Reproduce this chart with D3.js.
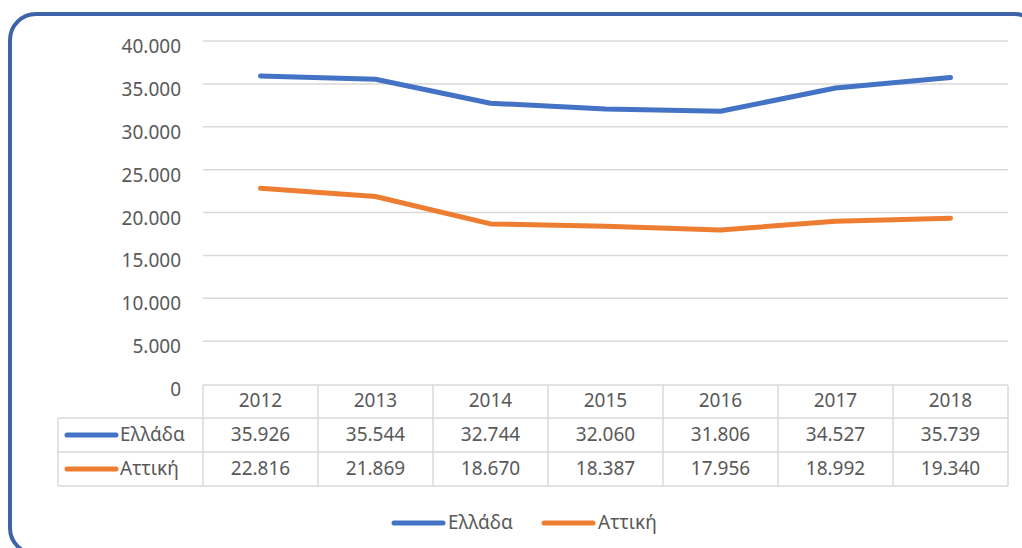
<!DOCTYPE html>
<html lang="el">
<head>
<meta charset="UTF-8"/>
<title>Ελλάδα - Αττική 2012-2018</title>
<style>
  body { margin: 0; background: #fff; }
  svg text { font-family: "Noto Sans", "Open Sans", sans-serif; fill: #595959; }
</style>
<script src="https://d3js.org/d3.v7.min.js"></script>
</head>
<body>
<div id="chart"></div>
<script>
// data
var years = ["2012", "2013", "2014", "2015", "2016", "2017", "2018"];
var seriesNames = ["Ελλάδα", "Αττική"];
var ellada = [35926, 35544, 32744, 32060, 31806, 34527, 35739];
var attiki = [22816, 21869, 18670, 18387, 17956, 18992, 19340];
var yTicks = [0, 5000, 10000, 15000, 20000, 25000, 30000, 35000, 40000];
var colors = ["#4472c4", "#ed7d31"];

var w = 1022, h = 548;
var fontSize = 19;

// greek number format (dot as thousands separator)
var fmt = d3.formatLocale({decimal: ",", thousands: ".", grouping: [3], currency: ["", "€"]}).format(",d");

var svg = d3.select("#chart").append("svg")
    .attr("width", w)
    .attr("height", h);

// outer rounded frame
svg.append("rect")
    .attr("x", 10).attr("y", 14)
    .attr("width", 1030).attr("height", 540)
    .attr("rx", 26).attr("ry", 26)
    .attr("fill", "none")
    .attr("stroke", "#3d64a8")
    .attr("stroke-width", 4);

var xScale = d3.scaleBand()
    .domain(years)
    .range([203, 1008]);

var yScale = d3.scaleLinear()
    .domain([0, 40000])
    .range([384, 41]);

// gridlines
svg.selectAll("line.grid")
    .data(yTicks.filter(function(d) { return d > 0; }))
    .enter()
    .append("line")
    .attr("class", "grid")
    .attr("x1", 203).attr("x2", 1008)
    .attr("y1", function(d) { return yScale(d); })
    .attr("y2", function(d) { return yScale(d); })
    .attr("stroke", "#d9d9d9")
    .attr("stroke-width", 1.5);

// y labels
svg.selectAll("text.ytick")
    .data(yTicks)
    .enter()
    .append("text")
    .attr("class", "ytick")
    .attr("x", 181)
    .attr("y", function(d) { return yScale(d) + 12; })
    .attr("text-anchor", "end")
    .attr("font-size", fontSize)
    .text(function(d) { return fmt(d); });

// lines
var values = [ellada, attiki];
var line = d3.line()
    .x(function(d, i) { return xScale(years[i]) + xScale.bandwidth() / 2; })
    .y(function(d) { return yScale(d); });

svg.selectAll("path.series")
    .data(values)
    .enter()
    .append("path")
    .attr("class", "series")
    .attr("d", line)
    .attr("fill", "none")
    .attr("stroke", function(d, i) { return colors[i]; })
    .attr("stroke-width", 5)
    .attr("stroke-linecap", "round")
    .attr("stroke-linejoin", "round");

// data table
var rowTop = [385, 418, 452, 486];
var tableLeft = 58;
var g = svg.append("g");
var gridColor = "#d9d9d9";

// horizontal rules
g.append("line").attr("x1", 203).attr("x2", 1008).attr("y1", rowTop[0]).attr("y2", rowTop[0])
    .attr("stroke", gridColor).attr("stroke-width", 1.5);
[1, 2, 3].forEach(function(r) {
    g.append("line").attr("x1", tableLeft).attr("x2", 1008)
        .attr("y1", rowTop[r]).attr("y2", rowTop[r])
        .attr("stroke", gridColor).attr("stroke-width", 1.5);
});
// vertical rules
g.append("line").attr("x1", tableLeft).attr("x2", tableLeft).attr("y1", rowTop[1]).attr("y2", rowTop[3])
    .attr("stroke", gridColor).attr("stroke-width", 1.5);
var colEdges = years.map(function(y) { return xScale(y); }).concat([1008]);
colEdges.forEach(function(x) {
    g.append("line").attr("x1", x).attr("x2", x).attr("y1", rowTop[0]).attr("y2", rowTop[3])
        .attr("stroke", gridColor).attr("stroke-width", 1.5);
});

// header years
g.selectAll("text.year")
    .data(years)
    .enter()
    .append("text")
    .attr("class", "year")
    .attr("x", function(d) { return xScale(d) + xScale.bandwidth() / 2; })
    .attr("y", (rowTop[0] + rowTop[1]) / 2 + 5.5)
    .attr("text-anchor", "middle")
    .attr("font-size", fontSize)
    .text(function(d) { return d; });

// value rows
values.forEach(function(vals, r) {
    var cy = (rowTop[r + 1] + rowTop[r + 2]) / 2;
    g.selectAll("text.v" + r)
        .data(vals)
        .enter()
        .append("text")
        .attr("class", "v" + r)
        .attr("x", function(d, i) { return xScale(years[i]) + xScale.bandwidth() / 2; })
        .attr("y", cy + 5.5)
        .attr("text-anchor", "middle")
        .attr("font-size", fontSize)
        .text(function(d) { return fmt(d); });

    g.append("line")
        .attr("x1", 67).attr("x2", 116)
        .attr("y1", cy).attr("y2", cy)
        .attr("stroke", colors[r])
        .attr("stroke-width", 5)
        .attr("stroke-linecap", "round");
    g.append("text")
        .attr("x", 120)
        .attr("y", cy + 5.5)
        .attr("font-size", fontSize)
        .text(seriesNames[r]);
});

// bottom legend
var legendX = [393, 543];
seriesNames.forEach(function(name, i) {
    svg.append("line")
        .attr("x1", legendX[i] + 1).attr("x2", legendX[i] + 50)
        .attr("y1", 523).attr("y2", 523)
        .attr("stroke", colors[i])
        .attr("stroke-width", 5)
        .attr("stroke-linecap", "round");
    svg.append("text")
        .attr("x", legendX[i] + 55)
        .attr("y", 529)
        .attr("font-size", fontSize)
        .text(name);
});
</script>
</body>
</html>
